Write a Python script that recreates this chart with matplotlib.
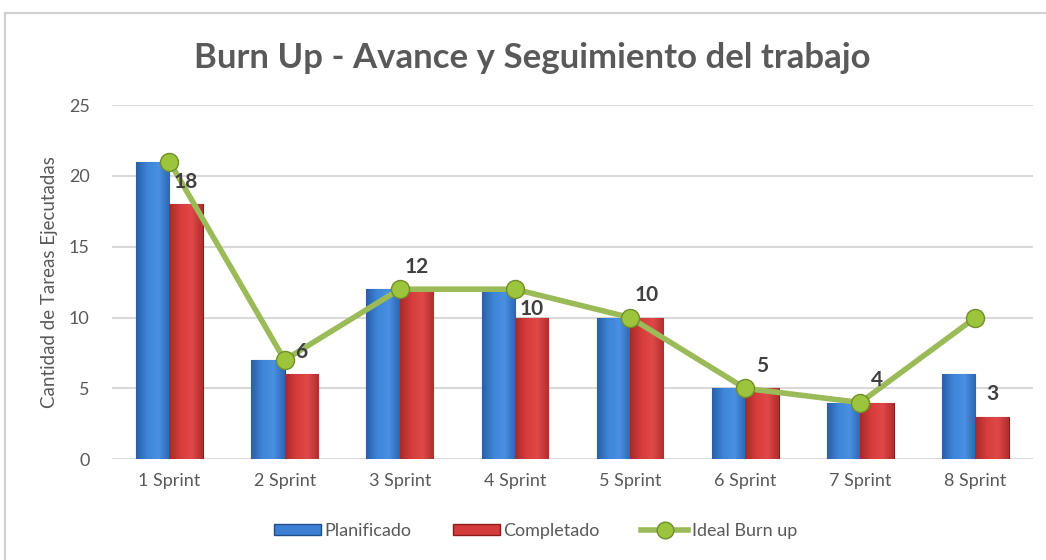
import matplotlib.pyplot as plt
import numpy as np
from matplotlib.colors import LinearSegmentedColormap
from matplotlib.lines import Line2D

plt.rcParams["font.family"] = ["Lato", "DejaVu Sans"]

sprints = ["1 Sprint", "2 Sprint", "3 Sprint", "4 Sprint",
           "5 Sprint", "6 Sprint", "7 Sprint", "8 Sprint"]
planificado = [21, 7, 12, 12, 10, 5, 4, 6]
completado = [18, 6, 12, 10, 10, 5, 4, 3]
ideal = [21, 7, 12, 12, 10, 5, 4, 10]
label_offsets = [16, 16, 16, 6, 16, 16, 16, 16]  # points above red bar

GRAY = "#595959"
GRID = "#d9d9d9"
GREEN = "#9bbb59"

fig = plt.figure(figsize=(10.46, 5.6), dpi=100)
ax = fig.add_axes([0.107, 0.180, 0.8806, 0.6325])

x = np.arange(len(sprints))
w = 0.29

blue_cmap = LinearSegmentedColormap.from_list("b", ["#2a5fa8", "#3d85d8", "#4a90e2", "#2d66b3"])
red_cmap = LinearSegmentedColormap.from_list("r", ["#a82a2a", "#d63c3c", "#e04848", "#b22e2e"])

bars_p = ax.bar(x - w / 2, planificado, w, color="#3d7fd2", edgecolor="#1f4e8c",
                linewidth=0.8, zorder=3)
bars_c = ax.bar(x + w / 2, completado, w, color="#d43b3b", edgecolor="#8b1c1c",
                linewidth=0.8, zorder=3)

grad = np.linspace(0, 1, 64).reshape(1, -1)
for bars, cmap in ((bars_p, blue_cmap), (bars_c, red_cmap)):
    for b in bars:
        x0, y0 = b.get_x(), b.get_y()
        im = ax.imshow(grad, cmap=cmap, aspect="auto", zorder=3.5,
                       extent=(x0, x0 + b.get_width(), y0, y0 + b.get_height()))
        im.set_clip_path(b)

ax.plot(x, ideal, color=GREEN, lw=4, zorder=5, solid_capstyle="round")
ax.plot(x, ideal, "o", ms=13, mfc="#9cc43c", mec="#6f8f2a", mew=1, zorder=6)

for xi, v, off in zip(x, completado, label_offsets):
    ax.annotate(str(v), (xi + w / 2, v), xytext=(0, off), textcoords="offset points",
                ha="center", va="center", fontsize=15, fontweight="bold",
                color="#404040", zorder=7)

ax.set_xlim(-0.5, len(sprints) - 0.5)
ax.set_ylim(0, 25)
ax.set_yticks(range(0, 26, 5))
ax.set_xticks(x)
ax.set_xticklabels(sprints)
ax.yaxis.grid(True, color=GRID, lw=1.5, zorder=0)
ax.set_axisbelow(True)
for s in ax.spines.values():
    s.set_visible(False)
ax.tick_params(length=0, labelsize=13, colors=GRAY, pad=10)
ax.tick_params(axis="y", pad=16)
ax.set_ylabel("Cantidad de Tareas Ejecutadas", fontsize=13.5, color=GRAY, labelpad=8)

fig.text(0.509, 0.897, "Burn Up - Avance y Seguimiento del trabajo", ha="center",
         va="center", fontsize=25, fontweight="bold", color=GRAY)

handles = [
    plt.Rectangle((0, 0), 1, 1, fc="#3d7fd2", ec="#1f4e8c"),
    plt.Rectangle((0, 0), 1, 1, fc="#d43b3b", ec="#8b1c1c"),
    Line2D([], [], color=GREEN, lw=4, marker="o", ms=12, mfc="#9cc43c", mec="#6f8f2a"),
]
fig.legend(handles, ["Planificado", "Completado", "Ideal Burn up"], loc="center",
           bbox_to_anchor=(0.512, 0.052), ncol=3, frameon=False, fontsize=13,
           labelcolor=GRAY, handlelength=2.6, handleheight=0.5, columnspacing=2.3,
           handletextpad=0.2)

# outer chart border
fig.add_artist(Line2D([0.005, 0.005], [0, 0.977], color="#d0d0d0", lw=1.5))
fig.add_artist(Line2D([0.005, 1], [0.977, 0.977], color="#d0d0d0", lw=1.5))

fig.savefig("out.png", dpi=100)
